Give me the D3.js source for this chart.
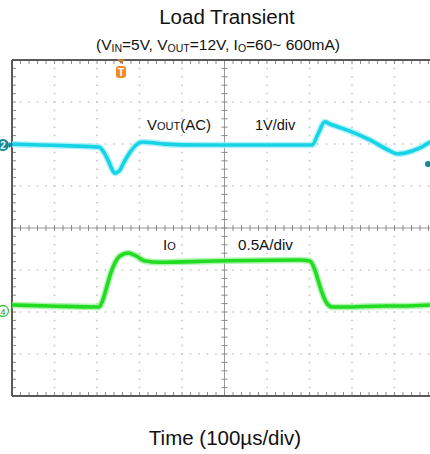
<!DOCTYPE html>
<html>
<head>
<meta charset="utf-8">
<script src="https://cdn.jsdelivr.net/npm/d3@7"></script>
<style>
  html, body { margin: 0; padding: 0; background: #fff; }
  svg { display: block; font-family: "Liberation Sans", Arial, sans-serif; }
</style>
</head>
<body>
<svg id="chart" width="430" height="454"></svg>
<script>
// Time base: 100 µs/div, 10 divisions across the screen
const timeDomain = [0, 1000];
const divisionsX = 10;
const divisionsY = 8;

// Output voltage ripple (AC coupled), volts, vs time in µs
const voutTime = [0, 66, 136, 205, 216, 226, 235, 242, 252, 264, 278, 292, 306, 325, 360, 442, 584, 678, 706, 720, 736, 748, 795, 842, 889, 906, 925, 960, 984, 1000];
const voutValue = [0.02, 0, -0.02, -0.05, -0.17, -0.36, -0.57, -0.67, -0.62, -0.40, -0.17, 0, 0.07, 0.06, 0.02, 0, 0, 0, 0, 0.26, 0.55, 0.50, 0.33, 0.12, -0.14, -0.21, -0.19, -0.07, 0.07, 0.12];

// Load current step, amps, vs time in µs
const ioTime = [0, 89, 205, 212, 221, 231, 242, 254, 273, 292, 313, 348, 477, 678, 701, 711, 720, 729, 739, 753, 781, 875, 922, 984, 1000];
const ioValue = [0.071, 0.06, 0.048, 0.107, 0.25, 0.43, 0.57, 0.655, 0.69, 0.655, 0.595, 0.58, 0.595, 0.607, 0.595, 0.51, 0.37, 0.226, 0.107, 0.048, 0.048, 0.06, 0.06, 0.071, 0.075];

const voltsPerDiv = 1;    // 1V/div
const ampsPerDiv = 0.5;   // 0.5A/div

const svg = d3.select("#chart");

// Screen geometry
const plotLeft = 12, plotTop = 60, divW = 42.5, divH = 42;
const plotRight = plotLeft + divW * divisionsX;
const plotBottom = plotTop + divH * divisionsY;

const x = d3.scaleLinear().domain(timeDomain).range([plotLeft, plotRight]);
// Channel 2 (Vout) ground at 145 px, channel 4 (Io) ground at 311 px
const yV = d3.scaleLinear().domain([0, voltsPerDiv]).range([145, 145 - divH]);
const yI = d3.scaleLinear().domain([0, ampsPerDiv]).range([311, 311 - divH]);

const screenG = svg.append("g");

// Dotted graticule
const minorX = divW / 5, minorY = divH / 5;
for (let i = 1; i < divisionsX; i++) {
  if (i === 5) continue;
  const gx = plotLeft + i * divW;
  screenG.append("line")
    .attr("x1", gx).attr("x2", gx).attr("y1", plotTop).attr("y2", plotBottom)
    .attr("stroke", "#c0c0c0").attr("stroke-width", 1.5)
    .attr("stroke-dasharray", `1.5 ${minorY - 1.5}`)
    .attr("stroke-dashoffset", 0.75);
}
for (let j = 1; j < divisionsY; j++) {
  if (j === 4) continue;
  const gy = plotTop + j * divH;
  screenG.append("line")
    .attr("x1", plotLeft).attr("x2", plotRight).attr("y1", gy).attr("y2", gy)
    .attr("stroke", "#c0c0c0").attr("stroke-width", 1.5)
    .attr("stroke-dasharray", `1.5 ${minorX - 1.5}`)
    .attr("stroke-dashoffset", 0.75);
}

// Centre axes with minor ticks
const cx = plotLeft + 5 * divW, cy = plotTop + 4 * divH;
screenG.append("line").attr("x1", cx).attr("x2", cx).attr("y1", plotTop).attr("y2", plotBottom)
  .attr("stroke", "#9a9a9a").attr("stroke-width", 1);
screenG.append("line").attr("x1", plotLeft).attr("x2", plotRight).attr("y1", cy).attr("y2", cy)
  .attr("stroke", "#9a9a9a").attr("stroke-width", 1);

const tickX = d3.range(0, divisionsX * 5 + 1).map(k => plotLeft + k * minorX);
const tickY = d3.range(0, divisionsY * 5 + 1).map(k => plotTop + k * minorY);

screenG.selectAll(".tcx").data(tickX).join("line")
  .attr("x1", d => d).attr("x2", d => d).attr("y1", cy - 3).attr("y2", cy + 3)
  .attr("stroke", "#8a8a8a").attr("stroke-width", 1);
screenG.selectAll(".tcy").data(tickY).join("line")
  .attr("x1", cx - 3).attr("x2", cx + 3).attr("y1", d => d).attr("y2", d => d)
  .attr("stroke", "#8a8a8a").attr("stroke-width", 1);

// Border ticks
screenG.selectAll(".tt").data(tickX).join("line")
  .attr("x1", d => d).attr("x2", d => d).attr("y1", plotTop).attr("y2", plotTop + 4)
  .attr("stroke", "#8a8a8a").attr("stroke-width", 1);
screenG.selectAll(".tb").data(tickX).join("line")
  .attr("x1", d => d).attr("x2", d => d).attr("y1", plotBottom - 4).attr("y2", plotBottom)
  .attr("stroke", "#8a8a8a").attr("stroke-width", 1);
screenG.selectAll(".tl").data(tickY).join("line")
  .attr("x1", plotLeft).attr("x2", plotLeft + 4).attr("y1", d => d).attr("y2", d => d)
  .attr("stroke", "#8a8a8a").attr("stroke-width", 1);

// Border
screenG.append("line").attr("x1", plotLeft).attr("x2", 430).attr("y1", plotTop).attr("y2", plotTop)
  .attr("stroke", "#5a5a5a").attr("stroke-width", 2);
screenG.append("line").attr("x1", plotLeft).attr("x2", 430).attr("y1", plotBottom).attr("y2", plotBottom)
  .attr("stroke", "#5a5a5a").attr("stroke-width", 2);
screenG.append("line").attr("x1", plotLeft).attr("x2", plotLeft).attr("y1", plotTop).attr("y2", plotBottom)
  .attr("stroke", "#5a5a5a").attr("stroke-width", 2);

// Traces
const voutLine = d3.line()
  .x((d, i) => x(voutTime[i]))
  .y(d => yV(d))
  .curve(d3.curveMonotoneX);
const ioLine = d3.line()
  .x((d, i) => x(ioTime[i]))
  .y(d => yI(d))
  .curve(d3.curveMonotoneX);

const traces = svg.append("g");
traces.append("path").attr("d", voutLine(voutValue))
  .attr("fill", "none").attr("stroke", "#9ff0f8").attr("stroke-width", 6.5).attr("opacity", 0.8);
traces.append("path").attr("d", voutLine(voutValue))
  .attr("fill", "none").attr("stroke", "#18d3e6").attr("stroke-width", 3.6);
traces.append("path").attr("d", ioLine(ioValue))
  .attr("fill", "none").attr("stroke", "#9cf09c").attr("stroke-width", 6.5).attr("opacity", 0.8);
traces.append("path").attr("d", ioLine(ioValue))
  .attr("fill", "none").attr("stroke", "#22dc22").attr("stroke-width", 3.6);

// Channel markers
const m2 = svg.append("g");
m2.append("circle").attr("cx", 3).attr("cy", yV(0)).attr("r", 6).attr("fill", "#17869a");
m2.append("text").attr("x", 3).attr("y", yV(0) + 4).attr("text-anchor", "middle")
  .attr("font-size", 10).attr("font-weight", "bold").attr("fill", "#e8ffff").text("2");
m2.append("path").attr("d", `M9,${yV(0) - 3} L13,${yV(0)} L9,${yV(0) + 3}Z`).attr("fill", "#17869a");

const m4 = svg.append("g");
m4.append("circle").attr("cx", 3).attr("cy", yI(0)).attr("r", 5.5)
  .attr("fill", "#fff").attr("stroke", "#3cc83c").attr("stroke-width", 1.3);
m4.append("text").attr("x", 3).attr("y", yI(0) + 3.5).attr("text-anchor", "middle")
  .attr("font-size", 9).attr("fill", "#2a8a2a").text("4");

svg.append("circle").attr("cx", 428).attr("cy", 164).attr("r", 3).attr("fill", "#17869a");

// Trigger marker
const tx = 121;
const trig = svg.append("g");
trig.append("path").attr("d", `M${tx - 4},${plotTop - 1} L${tx + 4},${plotTop - 1} L${tx},${plotTop + 4}Z`).attr("fill", "#c87a30");
trig.append("rect").attr("x", tx - 5).attr("y", 66).attr("width", 10).attr("height", 12).attr("rx", 3)
  .attr("fill", "#f08a2a");
trig.append("text").attr("x", tx).attr("y", 76).attr("text-anchor", "middle")
  .attr("font-size", 10).attr("font-weight", "bold").attr("fill", "#fff").text("T");

// Titles
svg.append("text").attr("x", 227).attr("y", 24).attr("text-anchor", "middle")
  .attr("font-size", 20.5).attr("fill", "#111").text("Load Transient");

const sub = svg.append("text").attr("x", 218).attr("y", 50).attr("text-anchor", "middle")
  .attr("font-size", 15.5).attr("fill", "#111");
const subParts = [
  ["(V", false], ["IN", true], ["=5V, V", false], ["OUT", true],
  ["=12V, I", false], ["O", true], ["=60~ 600mA)", false]
];
subParts.forEach(([t, s], k) => {
  const sp = sub.append("tspan").text(t);
  if (s) sp.attr("font-size", 10.5).attr("dy", 2);
  else if (k > 0) sp.attr("dy", -2);
});

// Channel labels
const vl = svg.append("text").attr("x", 147).attr("y", 130).attr("font-size", 15).attr("fill", "#111");
vl.append("tspan").text("V");
vl.append("tspan").attr("font-size", 11).text("OUT");
vl.append("tspan").text("(AC)");
svg.append("text").attr("x", 255).attr("y", 130).attr("font-size", 14.5).attr("fill", "#111").text("1V/div");

const il = svg.append("text").attr("x", 163).attr("y", 250).attr("font-size", 15).attr("fill", "#111");
il.append("tspan").text("I");
il.append("tspan").attr("font-size", 11).text("O");
svg.append("text").attr("x", 238).attr("y", 250).attr("font-size", 15.2).attr("fill", "#111").text("0.5A/div");

// Time axis caption
svg.append("text").attr("x", 225).attr("y", 445).attr("text-anchor", "middle")
  .attr("font-size", 20.5).attr("fill", "#111").text("Time (100µs/div)");
</script>
</body>
</html>
